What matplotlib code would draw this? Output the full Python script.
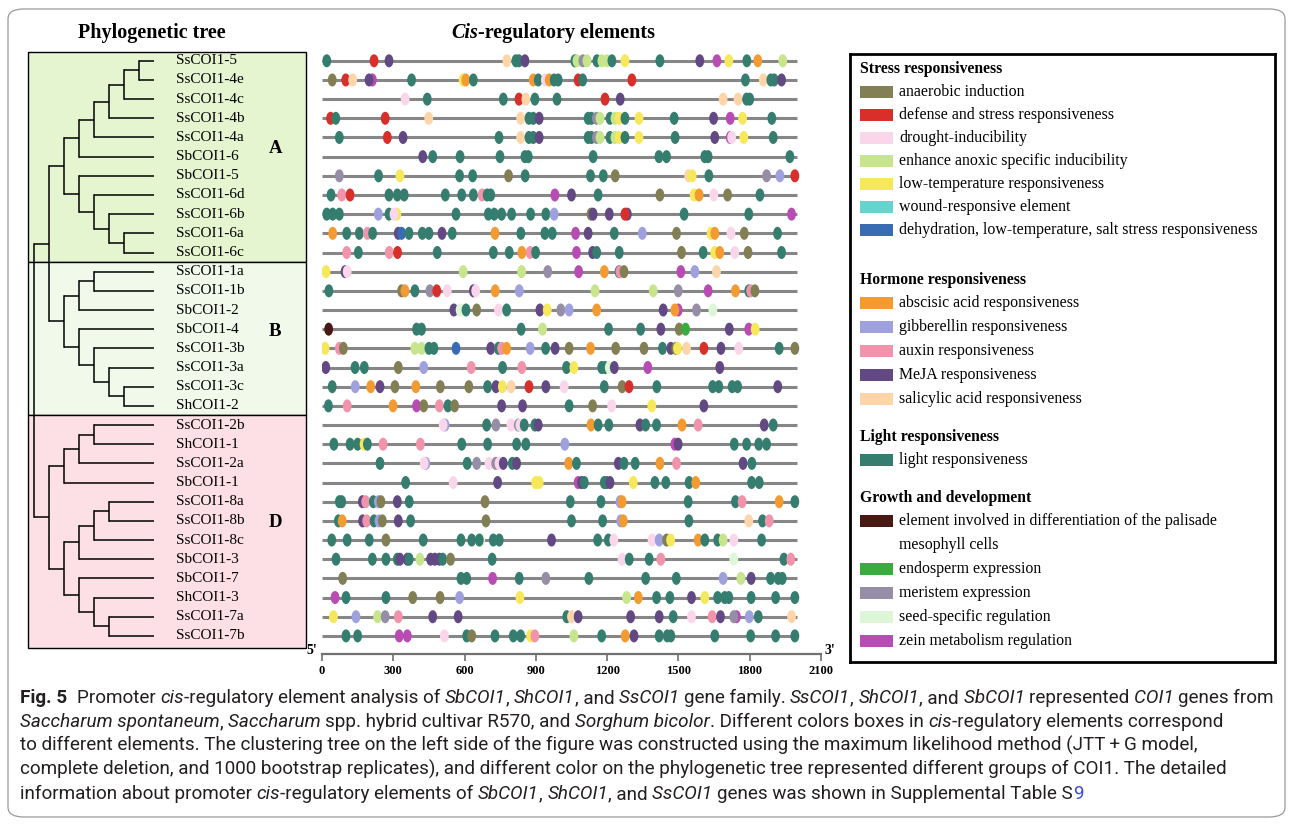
import re

import matplotlib
matplotlib.use("Agg")
import matplotlib.pyplot as plt
from matplotlib import font_manager
from matplotlib.patches import Ellipse, Rectangle, FancyBboxPatch

W, H = 1293, 827
SERIF = "Liberation Serif"

# ---------------------------------------------------------------- data
GENES = [
    "SsCOI1-5", "SsCOI1-4e", "SsCOI1-4c", "SsCOI1-4b", "SsCOI1-4a", "SbCOI1-6",
    "SbCOI1-5", "SsCOI1-6d", "SsCOI1-6b", "SsCOI1-6a", "SsCOI1-6c",
    "SsCOI1-1a", "SsCOI1-1b", "SbCOI1-2", "SbCOI1-4", "SsCOI1-3b", "SsCOI1-3a",
    "SsCOI1-3c", "ShCOI1-2",
    "SsCOI1-2b", "ShCOI1-1", "SsCOI1-2a", "SbCOI1-1", "SsCOI1-8a", "SsCOI1-8b",
    "SsCOI1-8c", "SbCOI1-3", "SbCOI1-7", "ShCOI1-3", "SsCOI1-7a", "SsCOI1-7b",
]

CLADE_A = ((((((("SsCOI1-5", "SsCOI1-4e"), "SsCOI1-4c"), "SsCOI1-4b"), "SsCOI1-4a"),
             "SbCOI1-6"),
           ("SbCOI1-5", ("SsCOI1-6d", ("SsCOI1-6b", ("SsCOI1-6a", "SsCOI1-6c"))))))
CLADE_B = ((("SsCOI1-1a", "SsCOI1-1b"), "SbCOI1-2"),
           ("SbCOI1-4", ("SsCOI1-3b", ("SsCOI1-3a", ("SsCOI1-3c", "ShCOI1-2")))))
CLADE_D = (((("SsCOI1-2b", "ShCOI1-1"), "SsCOI1-2a"), "SbCOI1-1"),
           (((("SsCOI1-8a", "SsCOI1-8b"), "SsCOI1-8c"), "SbCOI1-3"),
            ("SbCOI1-7", ("ShCOI1-3", ("SsCOI1-7a", "SsCOI1-7b")))))
TREE = ((CLADE_A, CLADE_B), CLADE_D)

GROUP_NAMES = ["A", "B", "D"]
GROUP_ROWS = [(0, 10), (11, 18), (19, 30)]
GROUP_COLORS = ["#e4f5d0", "#f1f9ea", "#fde0e6"]

TICKS = [0, 300, 600, 900, 1200, 1500, 1800, 2100]
PROMOTER_LEN = 2000

LABELS = {
    "AN": "anaerobic induction",
    "DS": "defense and stress responsiveness",
    "DI": "drought-inducibility",
    "EA": "enhance anoxic specific inducibility",
    "LT": "low-temperature responsiveness",
    "WR": "wound-responsive element",
    "DLS": "dehydration, low-temperature, salt stress responsiveness",
    "ABA": "abscisic acid responsiveness",
    "GA": "gibberellin responsiveness",
    "AUX": "auxin responsiveness",
    "MEJA": "MeJA responsiveness",
    "SA": "salicylic acid responsiveness",
    "LR": "light responsiveness",
    "PAL": "element involved in differentiation of the palisade\nmesophyll cells",
    "END": "endosperm expression",
    "MER": "meristem expression",
    "SEED": "seed-specific regulation",
    "ZEIN": "zein metabolism regulation",
}
COLORS = {
    "AN": "#827f55", "DS": "#d92f2a", "DI": "#fad6ea", "EA": "#c6e58d",
    "LT": "#f6e85a", "WR": "#67d3cf", "DLS": "#3a6cb4", "ABA": "#f39b31",
    "GA": "#9ea1de", "AUX": "#f193ab", "MEJA": "#634984", "SA": "#fdd5a8",
    "LR": "#357e6f", "PAL": "#4a1813", "END": "#3aab3e", "MER": "#958ea6",
    "SEED": "#ddf6d8", "ZEIN": "#b84cb4",
}
SECTIONS = [
    ("Stress responsiveness", ["AN", "DS", "DI", "EA", "LT", "WR", "DLS"]),
    ("Hormone responsiveness", ["ABA", "GA", "AUX", "MEJA", "SA"]),
    ("Light responsiveness", ["LR"]),
    ("Growth and development", ["PAL", "END", "MER", "SEED", "ZEIN"]),
]

# element positions (bp from 5' end) for every promoter
SITES = {
    "SsCOI1-5": "LR:20 DS:219 MEJA:282 SA:778 LR:816 LR:829 MEJA:854 LR:1064 EA:1073 "
                "MER:1098 EA:1115 LR:1157 EA:1178 EA:1199 LR:1220 LT:1275 LR:1422 "
                "MEJA:1590 ZEIN:1662 LT:1712 LR:1788 ABA:1834 EA:1939",
    "SsCOI1-4e": "AN:43 DS:100 SA:129 ZEIN:212 MEJA:198 LR:377 LT:594 ABA:605 LR:637 "
                 "ABA:889 LR:910 DI:940 ABA:956 LR:977 LR:994 DS:1078 LR:1097 DS:1304 "
                 "LR:1782 SA:1857 LR:1889 LR:1903 MEJA:1934",
    "SsCOI1-4c": "DI:350 LR:443 LR:763 DS:829 SA:858 LR:896 LR:989 DS:1191 MEJA:1255 "
                 "SA:1688 SA:1751 LR:1787 LR:1800",
    "SsCOI1-4b": "DS:36 LR:58 DS:266 SA:449 SA:836 LR:871 LR:889 MEJA:914 LR:1120 "
                 "LR:1134 MER:1155 EA:1170 LR:1212 EA:1233 LT:1250 LR:1275 LT:1334 "
                 "LR:1482 MEJA:1648 ZEIN:1718 LT:1770 LR:1893",
    "SsCOI1-4a": "LR:73 DS:275 MEJA:341 LR:745 SA:836 LR:871 LR:889 MEJA:914 LR:1120 "
                 "LR:1134 MER:1155 EA:1170 LR:1212 EA:1233 LT:1250 LR:1275 LT:1334 "
                 "LR:1486 MEJA:1653 ZEIN:1718 DI:1724 LT:1775 LR:1899",
    "SbCOI1-6": "MEJA:424 LR:466 LR:581 LR:749 LR:854 LR:868 LR:1141 LR:1418 LR:1450 "
                "LR:1611 LR:1625 LR:1969",
    "SbCOI1-5": "MER:73 LR:238 LT:328 LR:579 LR:634 AN:785 LR:855 LR:1130 LR:1184 "
                "AN:1234 SA:1543 LT:1558 LR:1628 MER:1871 GA:1927 DS:1990",
    "SsCOI1-6d": "LR:38 AUX:83 DS:118 LR:282 LR:317 LR:346 LR:519 LR:588 LR:637 AUX:674 "
                 "LR:695 LR:710 ZEIN:980 MEJA:1050 LR:1162 AN:1422 LT:1566 ABA:1587 "
                 "DI:1649 AN:1707 LR:1843",
    "SsCOI1-6b": "LR:20 LR:45 LR:73 GA:237 LR:282 LT:315 DI:303 LR:564 LR:700 LR:725 "
                 "LR:756 LR:798 LR:878 LR:942 GA:977 AN:1132 MEJA:1141 MEJA:1209 "
                 "MEJA:1285 DS:1275 LR:1524 LR:1796 ZEIN:1976",
    "SsCOI1-6a": "ABA:45 LR:104 LR:157 AUX:191 LR:213 MEJA:321 DLS:335 LR:366 LR:422 "
                 "LR:450 MEJA:505 LR:548 ABA:728 LR:837 LR:938 LR:969 ZEIN:1067 "
                 "MEJA:1120 LR:1230 GA:1348 AN:1492 LT:1637 ABA:1653 DI:1721 AN:1777 "
                 "LR:1917",
    "SsCOI1-6c": "AUX:104 LR:153 AUX:283 DS:318 LR:485 LR:721 LR:788 ABA:841 AUX:876 "
                 "LR:899 ZEIN:1071 MEJA:1139 LR:1156 LR:1251 AN:1513 LR:1604 LT:1653 "
                 "ABA:1674 DI:1737 AN:1793 LR:1934",
    "SsCOI1-1a": "LT:17 MEJA:97 DI:106 EA:594 EA:840 MER:950 ZEIN:1080 ABA:1188 "
                 "LR:1250 AUX:1254 AN:1271 ZEIN:1510 GA:1569 SA:1660",
    "SsCOI1-1b": "LR:29 AN:335 ABA:349 LR:391 MER:454 DS:483 DI:527 MEJA:637 DI:647 "
                 "ABA:729 GA:830 EA:1149 EA:1394 MER:1499 ZEIN:1625 ABA:1740 LR:1796 "
                 "AUX:1804 AN:1822",
    "SbCOI1-2": "MEJA:555 SEED:581 LR:606 AN:651 DI:743 LR:777 MEJA:917 LT:948 "
                "MER:1005 GA:1040 ABA:1156 MEJA:1436 ZEIN:1499 ABA:1485 MER:1576 "
                "SEED:1645",
    "SbCOI1-4": "PAL:28 LR:398 LR:419 LR:838 EA:928 LR:1206 LR:1341 MEJA:1426 "
                "AN:1503 END:1530 MEJA:1714 ZEIN:1796 LT:1823",
    "SsCOI1-3b": "LT:13 AUX:73 AN:90 EA:391 EA:419 LR:450 LR:471 DLS:564 MEJA:710 "
                 "LR:742 AUX:756 ABA:777 GA:876 LR:941 MEJA:981 AN:1040 ABA:1130 "
                 "AN:1236 AN:1355 LR:1433 MEJA:1468 AN:1489 LT:1496 SA:1534 DS:1607 "
                 "MEJA:1679 DI:1754 LR:1924 AN:1990",
    "SsCOI1-3a": "MEJA:16 LR:139 LR:178 AN:321 GA:428 AUX:628 LR:760 AUX:841 LR:1029 "
                 "LT:1060 LR:1177 LR:1191 SEED:1209 MEJA:1230 ZEIN:1371 MEJA:1674",
    "SsCOI1-3c": "LR:43 GA:140 ABA:205 MEJA:244 AN:307 ABA:395 AN:498 AN:618 LR:697 "
                 "MEJA:732 LT:759 SA:796 DS:871 MEJA:942 DI:1019 LR:1188 AN:1263 "
                 "DS:1292 LR:1409 LR:1644 LR:1670 LR:1726 LR:1749 MEJA:1918",
    "ShCOI1-2": "LR:27 AUX:106 ABA:299 ZEIN:398 AN:428 AUX:494 LR:530 AN:558 MEJA:756 "
                "MEJA:844 LR:1040 AN:1139 DI:1219 LT:1388 MEJA:1607",
    "SsCOI1-2b": "GA:518 DI:510 LR:693 MER:732 DI:795 MER:826 DI:833 LR:851 LR:896 "
                 "MEJA:910 ABA:1132 LR:1162 LR:1207 MEJA:1338 LR:1362 LR:1408 "
                 "ABA:1515 AUX:1583 MEJA:1861 LR:1899",
    "ShCOI1-1": "LR:50 LR:118 LR:150 LT:177 LR:191 AUX:257 AUX:414 LR:588 LR:697 "
                "LR:819 LR:858 GA:1022 ZEIN:1485 MEJA:1499 LR:1735 LR:1787 LR:1838 "
                "LR:1871",
    "SsCOI1-2a": "LR:244 GA:437 DI:430 LR:611 MER:651 DI:703 MER:731 DI:745 MEJA:763 "
                 "LR:801 MEJA:819 ABA:1038 LR:1071 MEJA:1247 LR:1271 LR:1318 "
                 "ABA:1422 AUX:1492 MEJA:1772 LR:1809",
    "SbCOI1-1": "LR:352 DI:552 MEJA:739 LT:899 LT:914 ZEIN:1078 MEJA:1092 LR:1104 "
                "LR:1188 LR:1198 MEJA:1212 LT:1310 LR:1401 LR:1447 LR:1545 ABA:1573 "
                "LR:1808 LR:1840",
    "SsCOI1-8a": "LR:73 LR:83 MEJA:170 AUX:184 LR:216 GA:237 AN:248 MEJA:317 LR:367 "
                 "AN:686 LR:1045 LR:1174 GA:1254 ABA:1263 LR:1541 LR:1740 AUX:1768 "
                 "ABA:1924 LR:1990",
    "SsCOI1-8b": "LR:69 ABA:85 MEJA:171 AUX:188 LR:219 GA:240 AN:254 MEJA:321 LR:373 "
                 "AN:690 LR:1050 LR:1181 GA:1257 ABA:1268 LR:1544 SA:1796 LR:1854 "
                 "AUX:1882",
    "SsCOI1-8c": "LR:41 LR:106 LR:199 AN:269 LR:426 LR:585 LR:630 SEED:668 LR:662 "
                 "LR:721 LR:746 MEJA:966 LR:1160 LR:1205 DI:1228 DI:1389 GA:1419 "
                 "AN:1450 LT:1467 ABA:1583 LR:1611 LR:1665 EA:1688 DI:1733 LR:1850",
    "SbCOI1-3": "LR:59 LR:212 LR:269 LR:317 MEJA:328 MEJA:359 LR:367 EA:412 MEJA:457 "
                "MEJA:475 MEJA:494 LR:508 AN:541 LR:716 DI:1263 LR:1293 LR:1377 "
                "AUX:1426 SEED:1733 LR:1944 AUX:1973",
    "SbCOI1-7": "AN:87 LR:585 LR:609 ZEIN:718 LR:830 MER:942 LR:1123 LR:1362 LR:1491 "
                "GA:1688 EA:1763 MEJA:1806 LR:1888 LR:1920 LR:1937",
    "ShCOI1-3": "ZEIN:55 LR:101 LR:269 AN:382 AN:497 GA:579 LT:833 EA:1282 ABA:1331 "
                "LR:1408 LR:1464 MEJA:1555 LT:1611 LR:1665 LR:1695 LR:1712 LR:1806 "
                "LR:1909 LR:1990",
    "SsCOI1-7a": "LT:48 GA:143 EA:234 MER:266 AUX:321 MEJA:466 MEJA:573 LR:1030 SA:1050 "
                 "MEJA:1078 MEJA:1299 MEJA:1419 LR:1478 DI:1555 AUX:1642 MEJA:1677 "
                 "ZEIN:1744 MER:1733 GA:1798 LR:1836 SA:1976",
    "SsCOI1-7b": "LR:101 LR:150 ZEIN:325 ZEIN:359 DI:515 LR:609 AN:630 LR:728 LR:805 "
                 "LR:836 LT:878 AUX:896 EA:1060 LR:1177 ABA:1276 MEJA:1313 LR:1419 "
                 "LR:1453 LR:1468 LR:1653 LR:1804 LR:1909 LR:1990",
}

CAPTION = [
    "**Fig. 5**  Promoter *cis*-regulatory element analysis of *SbCOI1*, *ShCOI1*, and "
    "*SsCOI1* gene family. *SsCOI1*, *ShCOI1*, and *SbCOI1* represented *COI1* genes from",
    "*Saccharum spontaneum*, *Saccharum* spp. hybrid cultivar R570, and *Sorghum bicolor*. "
    "Different colors boxes in *cis*-regulatory elements correspond",
    "to different elements. The clustering tree on the left side of the figure was "
    "constructed using the maximum likelihood method (JTT\u2009+\u2009G model,",
    "complete deletion, and 1000 bootstrap replicates), and different color on the "
    "phylogenetic tree represented different groups of COI1. The detailed",
    "information about promoter *cis*-regulatory elements of *SbCOI1*, *ShCOI1*, and "
    "*SsCOI1* genes was shown in Supplemental Table S[9]",
]

# ---------------------------------------------------------------- helpers
fig = plt.figure(figsize=(W / 100, H / 100), dpi=100)
renderer = fig.canvas.get_renderer()

ROW0, ROW_STEP = 60.8, 19.17          # pixel y of first row and row pitch
Y_TOP, Y_BOTTOM = -0.5, 30.94          # row range shared by tree and element panels


def px_axes(left, right):
    top = ROW0 + Y_TOP * ROW_STEP
    bottom = ROW0 + Y_BOTTOM * ROW_STEP
    return fig.add_axes([left / W, 1 - bottom / H, (right - left) / W, (bottom - top) / H])


def put(x, y, s, **kw):
    return fig.text(x / W, 1 - y / H, s, **kw)


def _ink_width(s, **kw):
    t = fig.text(0, 0, s, **kw)
    w = t.get_window_extent(renderer).width
    t.remove()
    return w


def text_width(s, **kw):
    # advance width of s, trailing spaces included
    return _ink_width("|" + s + "|", **kw) - _ink_width("||", **kw)


def parse_runs(line):
    runs = []
    for part in re.split(r"(\*\*.+?\*\*|\*.+?\*|\[.+?\])", line):
        if not part:
            continue
        if part.startswith("**"):
            text, st = part[2:-2], dict(weight="bold")
        elif part.startswith("*"):
            text, st = part[1:-1], dict(style="italic")
        elif part.startswith("["):
            text, st = part[1:-1], dict(color="#3a4fd0")
        else:
            text, st = part, {}
        # leading blanks go to the end of the previous run so every run
        # starts on a visible glyph
        stripped = text.lstrip(" ")
        if runs and len(stripped) < len(text):
            prev, pst = runs[-1]
            runs[-1] = (prev + text[:len(text) - len(stripped)], pst)
        runs.append((stripped, st))
    return runs


def runs_width(runs, base):
    return sum(text_width(s, **{**base, **st}) for s, st in runs)


def draw_runs(x, y, runs, base):
    for s, st in runs:
        kw = {**base, **st}
        put(x, y, s, ha="left", va="baseline", **kw)
        x += text_width(s, **kw)


# ---------------------------------------------------------------- frame
fig.patches.append(FancyBboxPatch((8 / W, 10 / H), 1277 / W, 808 / H,
                                  boxstyle="round,pad=0,rounding_size=0.012",
                                  transform=fig.transFigure, facecolor="none",
                                  edgecolor="#9a9a9a", lw=0.9))

# ---------------------------------------------------------------- tree panel
tax = px_axes(28, 306)
tax.set_xlim(-0.4, 18.13)
tax.set_ylim(Y_BOTTOM, Y_TOP)
tax.axis("off")

pad_top, pad_bottom = 0.44, 0.65
for (first, last), color in zip(GROUP_ROWS, GROUP_COLORS):
    lo = first - (pad_top if first == 0 else 0.5)
    hi = last + (pad_bottom if last == len(GENES) - 1 else 0.5)
    tax.add_patch(Rectangle((0, lo), 1, hi - lo, transform=tax.get_yaxis_transform(),
                            facecolor=color, edgecolor="black", lw=1.0, clip_on=False))

row_of = {g: i for i, g in enumerate(GENES)}
TIP_DEPTH = 8


def draw_clade(node, depth):
    if isinstance(node, str):
        return row_of[node]
    ys = []
    for child in node:
        y = draw_clade(child, depth + 1)
        x_child = TIP_DEPTH if isinstance(child, str) else depth + 1
        tax.plot([depth, x_child], [y, y], color="black", lw=1.1, solid_capstyle="butt")
        ys.append(y)
    tax.plot([depth, depth], [min(ys), max(ys)], color="black", lw=1.1,
             solid_capstyle="projecting")
    return (min(ys) + max(ys)) / 2


draw_clade(TREE, 0)

for g, i in row_of.items():
    tax.text(9.45, i, g, ha="left", va="center", family=SERIF, fontsize=11)

for name, (first, last) in zip(GROUP_NAMES, GROUP_ROWS):
    tax.text(16.07, (first + last) / 2 - 0.4, name, ha="center", va="center",
             family=SERIF, fontsize=13.5, weight="bold")

put(152, 33, "Phylogenetic tree", ha="center", va="center", family=SERIF,
    fontsize=14.5, weight="bold")

# ---------------------------------------------------------------- element panel
cax = px_axes(322, 821)
cax.set_xlim(0, TICKS[-1])
cax.set_ylim(Y_BOTTOM, Y_TOP)
for side in ("left", "right", "top"):
    cax.spines[side].set_visible(False)
cax.spines["bottom"].set_color("#707070")
cax.spines["bottom"].set_linewidth(1.6)
cax.set_yticks([])
cax.set_xticks(TICKS)
cax.set_xticklabels([str(t) for t in TICKS], family=SERIF, weight="bold", fontsize=9)
cax.tick_params(axis="x", direction="out", length=5, width=1.2, color="#707070", pad=3)

cax.hlines(range(len(GENES)), 0, PROMOTER_LEN, colors="#868686", lw=2.2, zorder=1)

ELL_W, ELL_H = 37, 0.68
for i, g in enumerate(GENES):
    for item in SITES[g].split():
        code, pos = item.split(":")
        cax.add_patch(Ellipse((float(pos), i), ELL_W, ELL_H, facecolor=COLORS[code],
                              edgecolor="none", zorder=2))

title_runs = [("Cis", dict(style="italic")), ("-regulatory elements", {})]
title_base = dict(family=SERIF, fontsize=14.5, weight="bold", color="black")
tw = runs_width(title_runs, title_base)
draw_runs(553 - tw / 2, 38, title_runs, title_base)

put(312, 651, "5'", ha="center", va="center", family=SERIF, fontsize=10, weight="bold")
put(830, 651, "3'", ha="center", va="center", family=SERIF, fontsize=10, weight="bold")

# ---------------------------------------------------------------- legend
lax = fig.add_axes([850 / W, 1 - 662 / H, 425 / W, 608 / H])
lax.set_xlim(0, 425)
lax.set_ylim(608, 0)
lax.set_xticks([])
lax.set_yticks([])
for sp in lax.spines.values():
    sp.set_linewidth(2.0)

y = 15
for k, (header, codes) in enumerate(SECTIONS):
    lax.text(10, y, header, family=SERIF, fontsize=11.3, weight="bold",
             ha="left", va="center")
    step = 23 if k == 0 else 24
    y += 23
    for code in codes:
        lax.add_patch(Rectangle((10, y - 6), 33, 12, facecolor=COLORS[code],
                                edgecolor="none"))
        for j, line in enumerate(LABELS[code].split("\n")):
            lax.text(49, y + 24 * j, line, family=SERIF, fontsize=11.4,
                     ha="left", va="center")
        y += step * len(LABELS[code].split("\n"))
    y += 50 - step if k == 0 else 38 - step

# ---------------------------------------------------------------- caption
names = {f.name for f in font_manager.fontManager.ttflist}
cap_family = "Liberation Sans Narrow" if "Liberation Sans Narrow" in names else "Roboto"
cap_base = dict(family=cap_family, fontsize=10, color="#231f20")
lines = [parse_runs(line) for line in CAPTION]
scale = 1258 / runs_width(lines[0], cap_base)
cap_base["fontsize"] = 10 * scale
for k, runs in enumerate(lines):
    draw_runs(20, 703 + 24 * k, runs, cap_base)

fig.savefig("out.png", dpi=100)
